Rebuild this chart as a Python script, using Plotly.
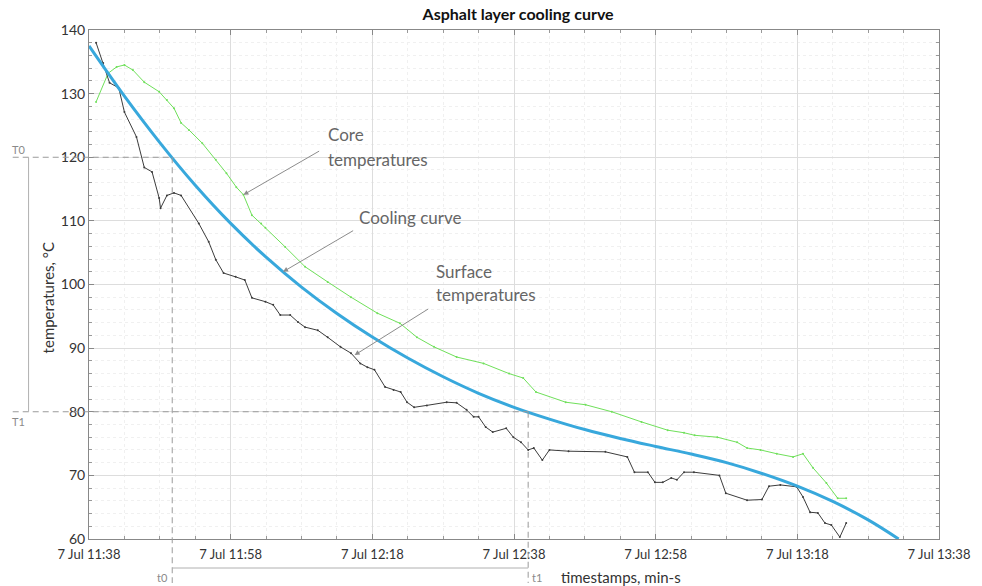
import datetime as dt
import plotly.graph_objects as go

# ---- data (minutes after 7 Jul 11:38, temperature °C) ----
BASE = dt.datetime(2021, 7, 7, 11, 38, 0)

surface_min = [1, 2, 2.9, 4.2, 5, 6.7, 7.8, 8.9, 9.9, 10.1, 11, 12, 13, 15.5, 16.9, 17.9, 19, 20.7, 22,
               23, 24.9, 26, 27, 28.4, 29.5, 30.5, 32.3, 33.7, 35.5, 37, 38.3, 39.3, 40.3, 41.8, 43, 44,
               44.9, 45.9, 47.7, 50.5, 51.9, 53.3, 54.3, 55, 56, 57, 58.9, 59.9, 61, 62, 62.8, 64, 65,
               67.7, 72.9, 76, 77, 78.9, 79.9, 81, 82.2, 83, 84, 85.4, 89, 89.9, 92.9, 95, 96, 97.6,
               99.9, 100.8, 101.8, 102.9, 103.9, 104.8, 106, 106.9]
surface_temp = [138, 134.8, 131.7, 130.9, 127.1, 123.2, 118.4, 117.7, 113.6, 112, 114, 114.4, 114, 109.6,
                106.7, 103.9, 101.8, 101.2, 100.7, 97.9, 97.3, 96.8, 95.2, 95.2, 94.1, 93.3, 92.8, 91.7,
                90.2, 89.2, 87.6, 87.0, 86.6, 83.9, 83.4, 83.1, 81.5, 80.7, 81.0, 81.5, 81.4, 80.3, 79.2,
                79.2, 77.6, 76.8, 77.4, 76.0, 75.2, 74.0, 74.3, 72.4, 74.0, 73.8, 73.7, 72.9, 70.5, 70.5,
                68.9, 68.9, 69.6, 69.3, 70.5, 70.5, 70.0, 67.2, 66.1, 66.2, 68.3, 68.5, 68.2, 66.6, 64.2,
                64.1, 62.5, 62.2, 60.3, 62.5]

core_min = [1, 2.7, 3.9, 5, 6.2, 7.8, 9.9, 11, 12, 13, 14.1, 16, 17.9, 19.4, 20.8, 21.8, 23, 24.3, 24.9,
            27.7, 30.5, 33.7, 37, 40.7, 43.9, 46.3, 48.7, 51.9, 55.7, 59.3, 61.3, 63.1, 67.3, 70.1, 73.8,
            78, 81.7, 84, 85.5, 88.7, 91.5, 92.9, 94.8, 97.1, 99.4, 100.8, 102.2, 104.1, 105.7, 106.9]
core_temp = [128.7, 133.2, 134.2, 134.5, 133.7, 131.8, 130.3, 129.0, 127.7, 125.4, 124.3, 122.2, 119.6,
             117.5, 115.3, 114.1, 110.9, 109.6, 108.9, 105.9, 102.8, 100.4, 98.0, 95.5, 93.9, 91.7, 90.2,
             88.6, 87.6, 86.0, 85.3, 83.1, 81.5, 81.1, 80.0, 78.4, 77.1, 76.7, 76.3, 76.0, 75.2, 74.3,
             74.0, 73.4, 72.9, 73.4, 71.2, 68.8, 66.4, 66.4]

curve_min = [0, 5, 10, 15, 20, 25, 30, 35, 40, 45, 50, 55, 60, 65, 70, 75, 80, 85, 90, 95, 100, 105, 110, 114.3]
curve_temp = [137.5, 129.6, 122.3, 115.6, 109.6, 104.3, 99.6, 95.45, 91.75, 88.45, 85.5, 82.9, 80.7, 78.85,
              77.2, 75.8, 74.55, 73.35, 72.0, 70.3, 68.3, 65.9, 63.0, 60.0]

T0, T1 = 120, 80
t0_min, t1_min = 11.75, 62.0

x_tick_min = [0, 20, 40, 60, 80, 100, 120]
y_range = [60, 140]
x_range_min = [0, 120]


def ts(m):
    return BASE + dt.timedelta(minutes=m)


fig = go.Figure()
fig.add_trace(go.Scatter(x=[ts(m) for m in core_min], y=core_temp, mode="lines+markers",
                         line=dict(color="#6fe05a", width=1), marker=dict(size=2, color="#6fe05a"),
                         name="Core temperatures"))
fig.add_trace(go.Scatter(x=[ts(m) for m in surface_min], y=surface_temp, mode="lines+markers",
                         line=dict(color="#3c3c3c", width=1), marker=dict(size=2, color="#3c3c3c"),
                         name="Surface temperatures"))
fig.add_trace(go.Scatter(x=[ts(m) for m in curve_min], y=curve_temp, mode="lines",
                         line=dict(color="#38a8dc", width=3, shape="spline", smoothing=1.0),
                         name="Cooling curve"))

FONT = "Lato, Carlito, Calibri, sans-serif"
tickvals = [ts(m) for m in x_tick_min]
ticktext = [ts(m).strftime("%-d %b %H:%M") for m in x_tick_min]

fig.update_layout(
    width=982, height=586,
    margin=dict(l=89, r=35, t=30, b=47),
    paper_bgcolor="white", plot_bgcolor="white",
    showlegend=False,
    font=dict(family=FONT, color="#333333"),
    title=dict(text="<b>Asphalt layer cooling curve</b>", x=0.5276, xanchor="center",
               y=1 - 14 / 586, yanchor="middle", yref="container",
               font=dict(size=16, color="#111111", family=FONT)),
)
fig.update_xaxes(
    range=[ts(x_range_min[0]), ts(x_range_min[1])], tickvals=tickvals, ticktext=ticktext,
    tickfont=dict(size=13, color="#333333"), ticklabelstandoff=3,
    showline=True, linecolor="#888888", linewidth=1, mirror="ticks",
    ticks="inside", ticklen=5, tickcolor="#888888",
    showgrid=True, gridcolor="#dddddd", gridwidth=1, zeroline=False,
    minor=dict(dtick=5 * 60 * 1000, tick0=ts(0), ticks="inside", ticklen=3, tickcolor="#999999",
               showgrid=True, gridcolor="#f0f0f0", griddash="dot"),
)
fig.update_yaxes(
    range=y_range, dtick=10, tickfont=dict(size=14, color="#333333"),
    showline=True, linecolor="#888888", linewidth=1, mirror="ticks",
    ticks="inside", ticklen=5, tickcolor="#888888",
    showgrid=True, gridcolor="#dddddd", gridwidth=1, zeroline=False,
    minor=dict(dtick=2, ticks="inside", ticklen=3, tickcolor="#999999",
               showgrid=True, gridcolor="#f0f0f0", griddash="dot"),
)

# paper coordinate helpers from data values
x_span = x_range_min[1] - x_range_min[0]
y_span = y_range[1] - y_range[0]
fx = lambda m: (m - x_range_min[0]) / x_span
fy = lambda t: (t - y_range[0]) / y_span
plot_w, plot_h = 982 - 89 - 35, 586 - 30 - 47
px_x = lambda p: p / plot_w
px_y = lambda p: p / plot_h

dash = dict(color="#9a9a9a", width=1, dash="6px,4px")
solid = dict(color="#b0b0b0", width=1)
# T0 / T1 horizontal dashed guides
fig.add_shape(type="line", xref="paper", yref="y", x0=-px_x(77), x1=fx(t0_min), y0=T0, y1=T0, line=dash)
fig.add_shape(type="line", xref="paper", yref="y", x0=-px_x(77), x1=fx(t1_min), y0=T1, y1=T1, line=dash)
# t0 / t1 vertical dashed guides
fig.add_shape(type="line", xref="x", yref="paper", x0=ts(t0_min), x1=ts(t0_min), y0=fy(T0), y1=-px_y(44), line=dash)
fig.add_shape(type="line", xref="x", yref="paper", x0=ts(t1_min), x1=ts(t1_min), y0=fy(T1), y1=-px_y(44), line=dash)
# brackets
fig.add_shape(type="line", xref="paper", yref="y", x0=-px_x(61), x1=-px_x(61), y0=T1, y1=T0, line=solid)
fig.add_shape(type="line", xref="x", yref="paper", x0=ts(t0_min), x1=ts(t1_min), y0=-px_y(29), y1=-px_y(29), line=solid)

small = dict(size=11, color="#8a8a8a", family=FONT)
fig.add_annotation(text="T0", xref="paper", yref="y", x=-px_x(71), y=T0, yshift=8, showarrow=False,
                   font=small, xanchor="center", yanchor="middle")
fig.add_annotation(text="T1", xref="paper", yref="y", x=-px_x(71), y=T1, yshift=-10, showarrow=False,
                   font=small, xanchor="center", yanchor="middle")
fig.add_annotation(text="t0", xref="x", yref="paper", x=ts(t0_min), y=-px_y(38), xshift=-2, showarrow=False,
                   font=small, xanchor="right", yanchor="middle")
fig.add_annotation(text="t1", xref="x", yref="paper", x=ts(t1_min), y=-px_y(38), xshift=2, showarrow=False,
                   font=small, xanchor="left", yanchor="middle")

fig.add_annotation(text="timestamps, min-s", xref="paper", yref="paper", x=px_x(563 - 89), y=-px_y(38),
                   showarrow=False, xanchor="left", yanchor="middle", font=dict(size=15, color="#333333", family=FONT))
fig.add_annotation(text="temperatures, °C", xref="paper", yref="paper", x=-px_x(41), y=px_y(539 - 298),
                   showarrow=False, textangle=-90, xanchor="center", yanchor="middle",
                   font=dict(size=15, color="#333333", family=FONT))

# callouts
lab = dict(size=17, color="#666666", family=FONT)
arrow = dict(showarrow=True, arrowhead=2, arrowsize=1, arrowwidth=1, arrowcolor="#8c8c8c",
             axref="x", ayref="y", text="", standoff=0)
fig.add_annotation(x=ts(21.8), y=114.1, ax=ts(32.7), ay=121.1, **arrow)
fig.add_annotation(x=ts(27.4), y=102.0, ax=ts(37.5), ay=108.6, **arrow)
fig.add_annotation(x=ts(37.5), y=88.9, ax=ts(48.1), ay=96.3, **arrow)

fig.add_annotation(text="Core", x=ts(33.4), y=123.5, showarrow=False, xanchor="left", yanchor="middle", font=lab)
fig.add_annotation(text="temperatures", x=ts(33.4), y=119.6, showarrow=False, xanchor="left", yanchor="middle", font=lab)
fig.add_annotation(text="Cooling curve", x=ts(37.9), y=110.6, showarrow=False, xanchor="left", yanchor="middle", font=lab)
fig.add_annotation(text="Surface", x=ts(48.7), y=102.0, showarrow=False, xanchor="left", yanchor="middle", font=lab)
fig.add_annotation(text="temperatures", x=ts(48.7), y=98.4, showarrow=False, xanchor="left", yanchor="middle", font=lab)

fig.write_html("out.html", config={"displayModeBar": False},
               post_script="document.body.style.margin='0';document.body.style.padding='0';")
